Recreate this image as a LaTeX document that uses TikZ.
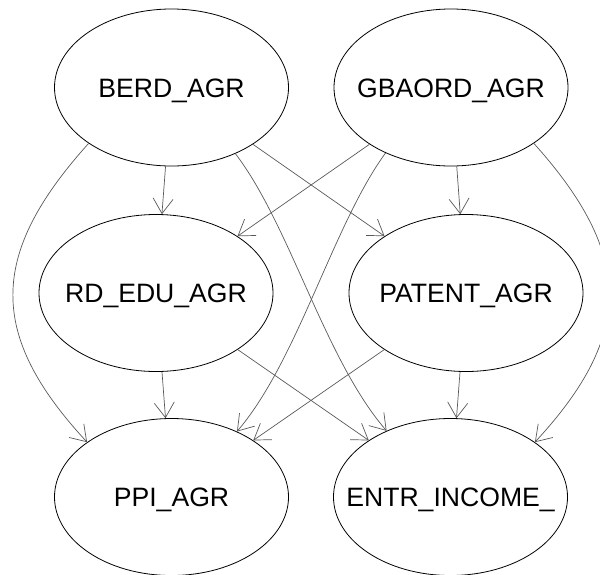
\documentclass[tikz,border=0pt]{standalone}
\usepackage{fontspec}
\setmainfont{Liberation Sans}
\usetikzlibrary{shapes.geometric,arrows.meta}
\newcommand\varlbl[1]{\makebox[0pt]{\raisebox{-0.358em}[0pt][0pt]{#1}}}
\begin{document}
\begin{tikzpicture}[x=1pt,y=-1pt,
  var/.style={draw=black, line width=0.8pt, ellipse, minimum width=234pt, minimum height=157pt, inner sep=0pt,
    font=\fontsize{26.6}{30}\selectfont},
  edge/.style={draw=black!65, line width=0.7pt, -{Straight Barb[length=15pt,width=20pt]}}]
\useasboundingbox (0,0) rectangle (600,574);
\node[var] (berd) at (171.5,87.5) {\varlbl{BERD\_AGR}};
\node[var] (gbaord) at (451,87.5) {\varlbl{GBAORD\_AGR}};
\node[var] (rdedu) at (156,293) {\varlbl{RD\_EDU\_AGR}};
\node[var] (patent) at (466,293) {\varlbl{PATENT\_AGR}};
\node[var] (ppi) at (171.5,497) {\varlbl{PPI\_AGR}};
\node[var] (entr) at (450.5,497) {\varlbl{ENTR\_INCOME\_}};
\draw[edge] (berd) -- (rdedu);
\draw[edge] (berd) -- (patent);
\draw[edge] (berd.214) .. controls (-12,255) and (-12,335) .. (ppi.147);
\draw[edge] (berd.314.6) .. controls (290,225) and (325,360) .. (entr.134.8);
\draw[edge] (gbaord) -- (rdedu);
\draw[edge] (gbaord) -- (patent);
\draw[edge] (gbaord.225.7) .. controls (333,225) and (298,360) .. (ppi.45.6);
\draw[edge] (gbaord.326) .. controls (634,255) and (634,335) .. (entr.33);
\draw[edge] (rdedu) -- (ppi);
\draw[edge] (rdedu) -- (entr);
\draw[edge] (patent) -- (ppi);
\draw[edge] (patent) -- (entr);
\end{tikzpicture}
\end{document}
